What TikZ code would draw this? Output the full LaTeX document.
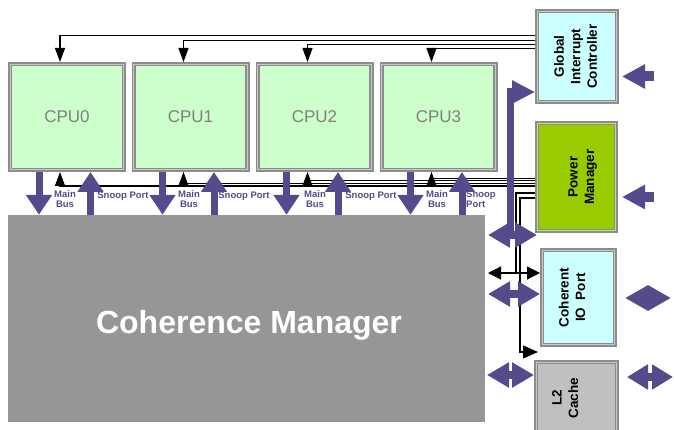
\documentclass[tikz,border=0pt]{standalone}
\usepackage{fontspec}
\setmainfont{Liberation Sans}
\usetikzlibrary{arrows.meta}

\definecolor{cpufill}{HTML}{CCFFCC}
\definecolor{cputext}{HTML}{808080}
\definecolor{icfill}{HTML}{CCFFFF}
\definecolor{pmfill}{HTML}{99CC00}
\definecolor{pmedge}{HTML}{C4E07A}
\definecolor{l2fill}{HTML}{C0C0C0}
\definecolor{cmfill}{HTML}{969696}
\definecolor{edgegray}{HTML}{8C8C8C}
\definecolor{edgelight}{HTML}{C8C8C8}
\definecolor{buspurple}{HTML}{554B8C}

\newcommand{\vtext}[1]{\rotatebox{90}{\begin{tabular}{@{}c@{}}#1\end{tabular}}}

\tikzset{
  block/.style={draw=edgegray, line width=1.6pt, double=edgelight,
    double distance=1.2pt, outer sep=2.2pt, inner sep=0pt},
  cpu/.style={block, fill=cpufill, minimum width=113.6pt, minimum height=105.6pt,
    text=cputext, font=\fontsize{17}{20}\selectfont},
  unit/.style={block, font=\bfseries\fontsize{13.5}{16.5}\selectfont},
  buslabel/.style={text=buspurple, font=\bfseries\fontsize{9.5}{10.5}\selectfont,
    align=center, inner sep=0pt},
  bus/.style={draw=buspurple, line width=7pt, -{Triangle[length=20pt,width=25pt]}},
  dbus/.style={draw=buspurple, line width=8pt,
    {Triangle[length=#1,width=24pt]}-{Triangle[length=#1,width=24pt]}},
  dbus/.default=22pt,
  inbus/.style={draw=buspurple, line width=10pt, -{Triangle[length=23pt,width=23pt]}},
  sig/.style={line width=1.2pt, -{Triangle[length=14pt,width=10pt]}},
  wire/.style={line width=1.2pt}
}

\begin{document}
\begin{tikzpicture}[x=1pt,y=-1pt]
\useasboundingbox (0,0) rectangle (674,430);
\clip (0,0) rectangle (674,430);

% cores, coherence manager and the units on the right
\node[cpu] (cpu0) at (67,117) {CPU0};
\node[cpu] (cpu1) at (190.5,117) {CPU1};
\node[cpu] (cpu2) at (314.5,117) {CPU2};
\node[cpu] (cpu3) at (438.5,117) {CPU3};
\node[fill=cmfill, minimum width=477pt, minimum height=207pt, inner sep=0pt] (cm) at (246.5,318.5) {};
\node[text=white, font=\bfseries\fontsize{32}{38}\selectfont] (cmtitle) at (249,325) {Coherence Manager};
\node[unit, fill=icfill, minimum width=79.6pt, minimum height=90.6pt] (gic) at (577,56.5)
  {\vtext{Global\\Interrupt\\Controller}};
\node[unit, fill=pmfill, double=pmedge, minimum width=78.6pt, minimum height=107.6pt] (pm) at (576.5,177)
  {\hspace*{12pt}\vtext{Power\\Manager}};
\node[unit, fill=icfill, minimum width=72.6pt, minimum height=94.6pt] (cio) at (578.5,297.5)
  {\vtext{Coherent\\IO\ \ Port}\hspace*{10pt}};
\node[unit, fill=l2fill, minimum width=80.6pt, minimum height=71.6pt] (l2) at (576.5,398)
  {\vtext{L2\\Cache}\hspace*{20pt}};

% interrupt lines
\coordinate (irq0) at (535,35.5);
\coordinate (irq1) at (535,40.5);
\coordinate (irq2) at (535,44.5);
\coordinate (irq3) at (535,48.5);
\draw[sig] (irq0) -| ([xshift=-7pt]cpu0.north);
\draw[sig] (irq1) -| ([xshift=-7pt]cpu1.north);
\draw[sig] (irq2) -| ([xshift=-7pt]cpu2.north);
\draw[sig] (irq3) -| ([xshift=-7pt]cpu3.north);

% power manager lines
\coordinate (pwr0) at (535,186);
\coordinate (pwr1) at (535,183.4);
\coordinate (pwr2) at (535,180.8);
\coordinate (pwr3) at (535,178.2);
\draw[sig] (pwr0) -| ([xshift=-7pt]cpu0.south);
\draw[sig] (pwr1) -| ([xshift=-7pt]cpu1.south);
\draw[sig] (pwr2) -| ([xshift=-7pt]cpu2.south);
\draw[sig] (pwr3) -| ([xshift=-7pt]cpu3.south);
\coordinate (pwrA) at (535,193);
\coordinate (pwrB) at (535,198);
\coordinate (tapA) at (516,273);
\coordinate (ioleft) at (488,273);
\coordinate (bendB) at (520,352);
\coordinate (l2in) at (538,352);
\draw[wire] (pwrA) -| (tapA);
\draw[wire, {Triangle[length=13pt,width=13pt]}-{Triangle[length=13pt,width=13pt]}] (ioleft) -- (ioleft -| cio.west);
\draw[sig, -{Triangle[length=15pt,width=13pt]}] (pwrB) -| (bendB) -- (l2in);

% bus labels
\node[buslabel] (mb0) at (65,199) {Main\\Bus};
\node[buslabel] (mb1) at (189,199) {Main\\Bus};
\node[buslabel] (mb2) at (315,199) {Main\\Bus};
\node[buslabel] (mb3) at (437,199) {Main\\Bus};
\node[buslabel] (sp0) at (123,196) {Snoop Port};
\node[buslabel] (sp1) at (244,196) {Snoop Port};
\node[buslabel] (sp2) at (371,196) {Snoop Port};
\node[buslabel, anchor=west, align=left] (sp3) at (466,199) {Snoop\\Port};

% main bus and snoop port arrows
\draw[bus] ([xshift=-28pt]cpu0.south) -- ([xshift=-28pt]cpu0.south |- cm.north);
\draw[bus] ([xshift=23.5pt]cpu0.south |- cm.north) -- ([xshift=23.5pt]cpu0.south);
\draw[bus] ([xshift=-28pt]cpu1.south) -- ([xshift=-28pt]cpu1.south |- cm.north);
\draw[bus] ([xshift=23.5pt]cpu1.south |- cm.north) -- ([xshift=23.5pt]cpu1.south);
\draw[bus] ([xshift=-28pt]cpu2.south) -- ([xshift=-28pt]cpu2.south |- cm.north);
\draw[bus] ([xshift=23.5pt]cpu2.south |- cm.north) -- ([xshift=23.5pt]cpu2.south);
\draw[bus] ([xshift=-28pt]cpu3.south) -- ([xshift=-28pt]cpu3.south |- cm.north);
\draw[bus] ([xshift=23.5pt]cpu3.south |- cm.north) -- ([xshift=23.5pt]cpu3.south);

% side bus
\coordinate (jnA) at (488,235);
\coordinate (jnV) at (510.5,235);
\coordinate (gicin) at (535,92);
\coordinate (jnB) at (488,294);
\coordinate (jnC) at (487,375);
\draw[bus, line join=miter, -{Triangle[length=23pt,width=22pt]}] (jnV) |- (gicin);
\draw[dbus] (jnA) -- (537,235);
\draw[dbus] (jnB) -- (jnB -| cio.west);
\draw[dbus] (jnC) -- (jnC -| l2.west);

% external ports
\coordinate (gicext) at (654,76.5);
\coordinate (pmext) at (654,197);
\coordinate (cioext) at (671,298);
\coordinate (l2ext) at (673,377);
\draw[inbus] (gicext) -- (622,76.5);
\draw[inbus] (pmext) -- (622,197);
\draw[dbus=23pt] (625,298) -- (cioext);
\draw[dbus=21pt] (627,377) -- (l2ext);
\end{tikzpicture}
\end{document}
